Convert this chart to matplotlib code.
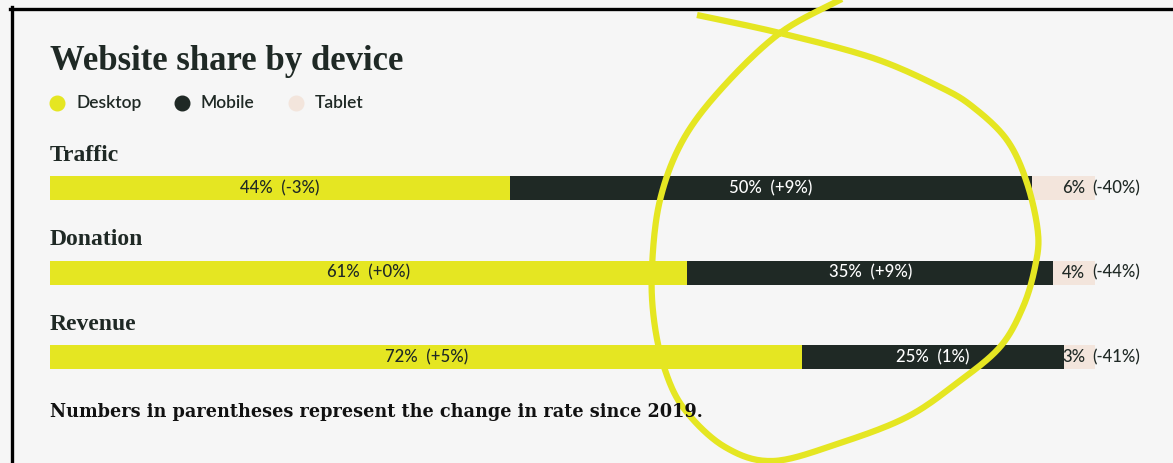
import numpy as np
import matplotlib
matplotlib.use("Agg")
import matplotlib.pyplot as plt

categories = ["Traffic", "Donation", "Revenue"]
devices = ["Desktop", "Mobile", "Tablet"]
desktop = [44, 61, 72]
mobile = [50, 35, 25]
tablet = [6, 4, 3]
desktop_chg = ["-3%", "+0%", "+5%"]
mobile_chg = ["+9%", "+9%", "1%"]
tablet_chg = ["-40%", "-44%", "-41%"]

YELLOW = "#e5e622"
DARK = "#1f2925"
PEACH = "#f3e5dc"
BG = "#f6f6f6"

W, H = 1173, 463
fig = plt.figure(figsize=(W / 100, H / 100), dpi=100)
fig.patch.set_facecolor(BG)


def fx(x):
    return x / W


def fy(y):
    return 1 - y / H


sans = ["Lato", "DejaVu Sans"]
serif = ["Liberation Serif", "DejaVu Serif"]

# frame lines (top and left)
fig.add_artist(plt.Line2D([fx(10), 1], [fy(8.5), fy(8.5)], color="black", lw=2.4))
fig.add_artist(plt.Line2D([fx(11.5), fx(11.5)], [fy(7), 0], color="black", lw=2.4))

fig.text(fx(50), fy(62), "Website share by device", fontsize=25, fontweight="bold",
         family=serif, color=DARK, va="center", ha="left")

# legend
leg_x = [57, 182, 296]
for x, name, c in zip(leg_x, devices, [YELLOW, DARK, PEACH]):
    fig.add_artist(plt.Line2D([fx(x)], [fy(103)], marker="o", markersize=10.5,
                              color=c, linestyle="none"))
    fig.text(fx(x + 19), fy(103), name, fontsize=12.5, family=sans, fontweight="semibold",
             color=DARK, va="center", ha="left")

# bars
row_gap = 84.5
top = 188 - row_gap / 2
ax = fig.add_axes([fx(50), fy(top + 3 * row_gap), 1045 / W, 3 * row_gap / H])
ax.set_xlim(0, 100)
ax.set_ylim(2.5, -0.5)
ax.axis("off")
ax.patch.set_alpha(0)

y = np.arange(len(categories))
bh = 24 / row_gap
left = np.zeros(3)
for vals, c in zip([desktop, mobile, tablet], [YELLOW, DARK, PEACH]):
    ax.barh(y, vals, left=left, height=bh, color=c, edgecolor="none")
    left = left + np.array(vals)

lbl = dict(fontsize=12, family=sans, fontweight="medium", va="center")
for i, cat in enumerate(categories):
    ax.text(0, i - 0.39, cat, fontsize=17, fontweight="bold", family=serif,
            color=DARK, va="center", ha="left")
    ax.text(desktop[i] / 2, i, f"{desktop[i]}%  ({desktop_chg[i]})",
            color=DARK, ha="center", **lbl)
    ax.text(desktop[i] + mobile[i] / 2, i, f"{mobile[i]}%  ({mobile_chg[i]})",
            color="white", ha="center", **lbl)
    ax.annotate(f"{tablet[i]}%", (100, i), xytext=(-7, 0), textcoords="offset points",
                color=DARK, ha="right", **lbl)
    ax.annotate(f"({tablet_chg[i]})", (100, i), xytext=(-2, 0), textcoords="offset points",
                color=DARK, ha="left", **lbl)

fig.text(fx(50), fy(412), "Numbers in parentheses represent the change in rate since 2019.",
         fontsize=12.7, family=["DejaVu Serif"], fontweight="bold", color="#111111",
         va="center", ha="left")

# hand-drawn yellow loop
loop = np.array([
    [697, 15], [780, 33], [873, 58], [940, 87], [973, 107], [1007, 140],
    [1027, 183], [1038, 233], [1035, 267], [1023, 307], [1000, 347], [957, 383],
    [907, 417], [840, 443], [773, 461], [725, 447], [685, 410], [665, 370],
    [654, 320], [652, 267], [660, 200], [683, 140], [723, 87], [780, 33],
    [840, 0], [860, -10],
], dtype=float)


def catmull(pts, n=20):
    out = []
    p = np.vstack([pts[0], pts, pts[-1]])
    for k in range(1, len(p) - 2):
        p0, p1, p2, p3 = p[k - 1], p[k], p[k + 1], p[k + 2]
        for t in np.linspace(0, 1, n, endpoint=False):
            t2, t3 = t * t, t * t * t
            out.append(0.5 * ((2 * p1) + (-p0 + p2) * t + (2 * p0 - 5 * p1 + 4 * p2 - p3) * t2
                              + (-p0 + 3 * p1 - 3 * p2 + p3) * t3))
    out.append(p[-2])
    return np.array(out)


curve = catmull(loop)
fig.add_artist(plt.Line2D(curve[:, 0] / W, 1 - curve[:, 1] / H, color=YELLOW, lw=4.5,
                          solid_capstyle="butt", transform=fig.transFigure))

fig.savefig("out.png", dpi=100, facecolor=fig.get_facecolor())
